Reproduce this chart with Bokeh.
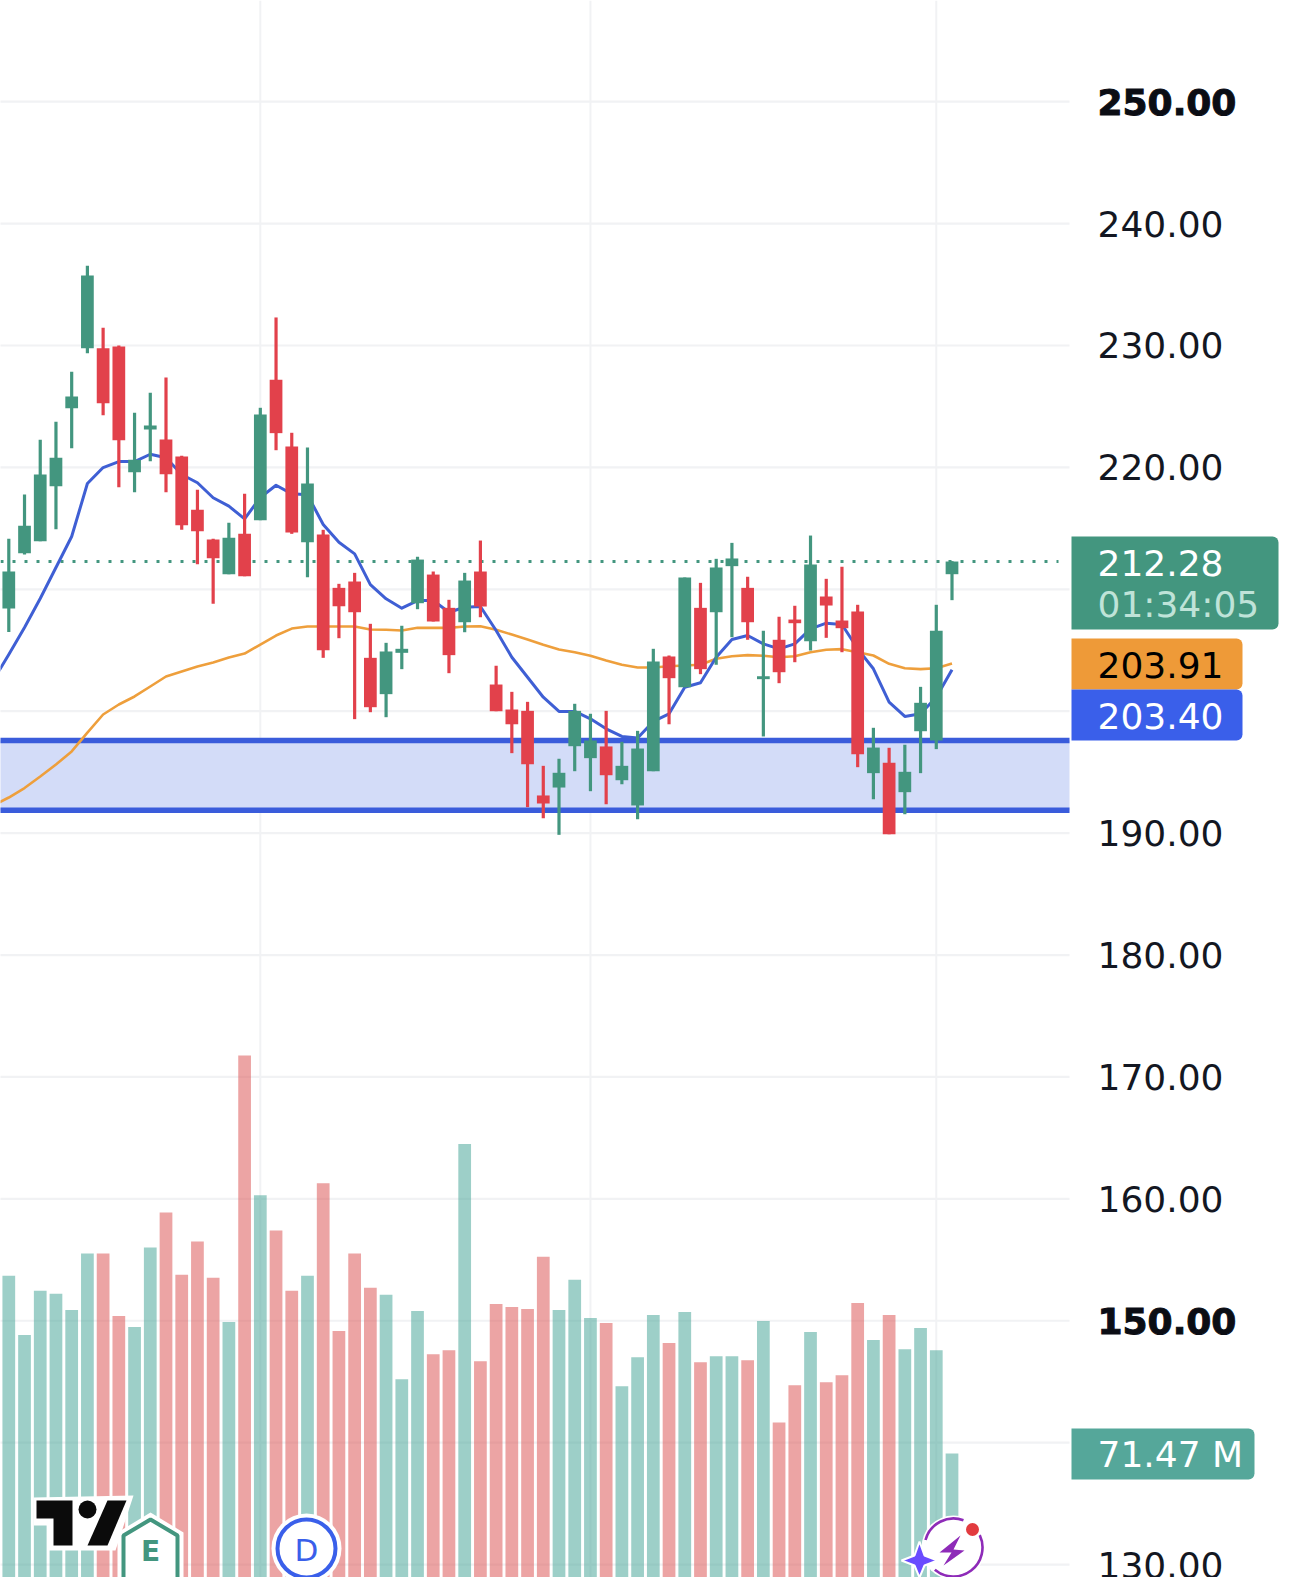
from bokeh.plotting import figure
from bokeh.models import Range1d
from bokeh.core.properties import value
from bokeh.embed import file_html
from bokeh.resources import INLINE

opens = [208.43,212.96,213.95,218.46,224.86,229.78,229.78,229.92,219.61,223.11,222.29,220.89,216.52,214.09,211.24,214.55,215.67,227.19,221.71,213.86,214.50,210.12,210.64,204.38,201.40,204.79,208.86,211.21,208.48,207.30,211.46,202.19,200.14,200.03,193.09,193.74,197.13,196.15,197.11,194.34,192.27,195.08,204.49,201.97,208.48,208.12,211.90,210.12,202.63,205.86,207.52,205.74,209.41,207.44,208.18,194.92,195.77,193.36,198.36,197.60,211.24]
highs = [214.14,217.78,222.26,223.74,227.84,236.54,231.45,230.00,224.48,226.12,227.37,220.95,218.16,214.14,215.46,217.83,224.89,232.30,222.84,221.63,214.88,210.45,211.35,207.17,205.61,207.01,212.67,211.46,209.14,211.35,214.00,203.73,201.59,200.77,195.52,196.10,200.61,199.79,200.03,197.49,198.39,205.12,204.57,210.97,210.53,212.50,213.81,211.03,206.60,207.75,208.65,214.41,210.86,211.85,208.73,198.64,197.00,197.25,202.00,208.73,212.31]
lows = [206.49,212.86,213.95,214.93,221.58,229.37,224.28,218.38,217.97,220.51,217.97,214.88,212.06,208.81,211.24,211.08,215.67,221.41,214.55,210.99,204.38,205.99,199.35,199.92,199.51,203.45,208.37,207.36,203.12,206.48,207.71,200.00,196.56,192.13,191.22,189.86,195.08,193.44,192.37,194.01,191.14,195.08,198.93,201.97,203.04,203.81,206.07,205.86,197.93,202.30,204.02,204.98,206.02,204.84,195.41,192.78,189.91,191.55,194.92,196.89,209.11]
closes = [211.46,215.21,219.42,220.79,225.82,235.74,225.27,222.23,220.62,223.44,219.44,215.26,214.77,212.55,214.23,211.08,224.34,222.81,214.66,218.68,205.01,208.61,208.12,200.33,204.90,205.12,212.44,207.36,204.60,210.72,208.59,200.00,198.93,195.65,192.43,194.95,200.03,197.60,194.75,195.52,196.94,204.08,202.71,210.97,203.45,211.79,212.53,207.30,202.87,203.20,207.22,212.04,208.67,206.81,196.47,197.02,189.91,195.03,200.69,206.60,212.28]
# The moving averages start one session before the first visible candle
ma_blue = [202.50,204.65,206.87,209.25,211.79,214.33,218.68,219.99,220.48,220.48,221.08,220.79,219.42,218.74,217.51,216.82,215.78,217.53,218.54,217.83,217.75,215.32,213.86,212.91,210.39,209.22,208.45,209.08,209.08,208.12,208.53,208.59,206.62,204.43,202.79,201.15,199.98,199.98,199.38,198.56,197.93,197.80,199.16,199.79,201.97,202.33,204.43,205.88,206.21,205.53,205.12,205.53,206.76,207.22,207.11,205.12,203.48,200.74,199.57,199.79,201.15,203.40]
ma_orange = [192.27,192.92,193.70,194.64,195.63,196.70,198.25,199.73,200.55,201.21,202.03,202.85,203.26,203.67,204.00,204.41,204.73,205.47,206.21,206.78,206.95,206.95,206.95,206.95,206.70,206.68,206.62,206.84,206.84,206.84,206.95,206.97,206.68,206.29,205.88,205.45,205.06,204.84,204.55,204.16,203.81,203.59,203.59,203.69,203.75,203.81,204.30,204.51,204.60,204.55,204.43,204.51,204.84,205.04,205.09,204.84,204.57,203.89,203.53,203.45,203.53,203.91]
volumes = [135.93,114.41,130.46,129.37,123.53,143.96,143.96,121.34,117.33,146.15,158.91,136.30,148.33,135.20,119.15,215.82,165.11,152.35,130.46,135.93,169.49,115.87,143.96,131.55,129.00,98.36,123.16,107.48,108.94,183.72,104.93,125.72,124.62,123.89,142.86,123.53,134.47,120.61,118.79,95.81,106.39,121.71,111.49,122.80,104.56,106.75,106.75,105.29,119.52,82.67,96.17,115.50,97.27,99.82,126.08,112.59,121.71,109.30,116.96,108.94,71.47]

grid_prices = [250,240,230,220,210,200,190,180,170,160,150,140,130]
axis_prices = [240,230,220,190,180,170,160,130]
bold_prices = [250,150]
time_grid = [16,37,59]
zone_top, zone_bottom = 197.60, 191.88
last_price, last_timer = 212.28, "01:34:05"
orange_label, blue_label, volume_label = "203.91", "203.40", "71.47 M"

GREEN, RED = "#43967F", "#E2414B"
W, H = 1290, 1577
FONT = value("DejaVu Sans")
X = lambda px: (px - 8.3) / 15.72
x0, x1 = X(0), X(W)
y_top, y_bottom = 258.30, 128.94
Y = lambda py: y_top - py * (y_top - y_bottom) / H
LEFT, RIGHT = X(-6), X(1069)

p = figure(width=W, height=H, output_backend="svg", toolbar_location=None,
           x_range=Range1d(x0, x1), y_range=Range1d(y_bottom, y_top),
           min_border=0, outline_line_color=None,
           x_axis_location=None, y_axis_location=None)
p.grid.visible = False
p.extra_y_ranges = {"vol": Range1d(26.48, 598.46)}

# Grid lines stop at the edge of the price scale
p.segment([LEFT] * len(grid_prices), grid_prices, [RIGHT] * len(grid_prices), grid_prices,
          line_color="#F1F2F4", line_width=2.2)
p.segment(time_grid, [y_bottom] * len(time_grid), time_grid, [y_top] * len(time_grid),
          line_color="#F1F2F4", line_width=2)
p.quad(left=[LEFT], right=[RIGHT], bottom=[zone_bottom], top=[zone_top], fill_color="#D3DCF8", line_color=None)
p.segment([LEFT, LEFT], [zone_top, zone_bottom], [RIGHT, RIGHT], [zone_top, zone_bottom],
          line_color="#3A5CDB", line_width=5.5)
p.line([X(0), X(1058)], [last_price, last_price], line_color=GREEN, line_width=3, line_dash="3 9")

idx = list(range(len(closes)))
up = [c >= o for o, c in zip(opens, closes)]
p.vbar(idx, 0.81, 26.48, volumes, y_range_name="vol", line_color=None,
       fill_color=["#4DA89A" if u else "#DD5A5A" for u in up], fill_alpha=0.55)
ma_idx = list(range(-1, len(closes)))
p.line(ma_idx, ma_orange, line_color="#EE9F3C", line_width=2.6, line_join="round")
p.line(ma_idx, ma_blue, line_color="#3F5FD4", line_width=3, line_join="round")
colors = [GREEN if u else RED for u in up]
p.segment(idx, lows, idx, highs, line_color=colors, line_width=3.2)
p.vbar(idx, 0.81, opens, closes, fill_color=colors, line_color=None)

def pill(l, r, t, b, c):
    p.quad(left=[X(l)], right=[X(r)], top=[Y(t)], bottom=[Y(b)], fill_color=c, line_color=None,
           border_radius=(0, 6, 6, 0))

def text(s, y, color="#FFFFFF", style="normal", size="36px", x=1097, **kw):
    p.text([X(x)], [y], text=[s], text_font=FONT, text_font_size=size, text_color=color,
           text_font_style=style, text_baseline="middle", text_align="left", **kw)

pill(1071, 1278, 536, 629, GREEN)
pill(1071, 1242, 638, 689, "#EE9A38")
pill(1071, 1242, 689, 740, "#3A5FEA")
pill(1071, 1254, 1428, 1479, "#55A79A")
for v in axis_prices:
    text(f"{v:.2f}", v, color="#131722")
for v in bold_prices:
    text(f"{v:.2f}", v, color="#0B0D14", style="bold", text_outline_color="#0B0D14")
text(f"{last_price:.2f}", Y(562))
text(last_timer, Y(604), color="#BFE3D8")
text(orange_label, Y(664), color="#000000")
text(blue_label, Y(715))
text(volume_label, Y(1454))

# Logo and badges along the bottom of the chart
def poly(points, fill, line=None, lw=0):
    p.patch([X(a) for a, _ in points], [Y(b) for _, b in points], fill_color=fill,
            line_color=line, line_width=lw)

def dot(x, y, size, fill, line=None, lw=0):
    p.scatter([X(x)], [Y(y)], size=size, fill_color=fill, line_color=line, line_width=lw)

poly([(33, 1497), (133, 1495), (115, 1550), (47, 1550), (47, 1525), (33, 1525)], "#FFFFFF")
poly([(36, 1500), (72, 1500), (72, 1545), (53, 1545), (53, 1518), (36, 1518)], "#0B0B0B")
poly([(107, 1500), (126, 1500), (107, 1545), (87, 1545)], "#0B0B0B")
dot(87, 1509, 18, "#0B0B0B")

poly([(150, 1512), (183, 1532), (183, 1580), (117, 1580), (117, 1532)], "#FFFFFF")
poly([(150, 1519), (177, 1535), (177, 1580), (123, 1580), (123, 1535)], "#FFFFFF", GREEN, 4)
p.text([X(150)], [Y(1551)], text=["E"], text_font=FONT, text_font_size="28px", text_font_style="bold",
       text_color=GREEN, text_align="center", text_baseline="middle")

dot(306, 1548, 70, "#FFFFFF")
dot(306, 1548, 58, "#FFFFFF", "#3A5FEA", 4)
p.text([X(306)], [Y(1549)], text=["D"], text_font=FONT, text_font_size="31px",
       text_color="#3A5FEA", text_align="center", text_baseline="middle")

dot(953, 1547, 64, "#FFFFFF")
p.arc([X(953)], [Y(1547)], radius=29, radius_units="screen", start_angle=1.22, end_angle=2.88,
      line_color="#8E2BB8", line_width=2.6)
p.arc([X(953)], [Y(1547)], radius=29, radius_units="screen", start_angle=-2.27, end_angle=0.44,
      line_color="#8E2BB8", line_width=2.6)
poly([(960, 1535), (939, 1552), (951, 1552), (943, 1565), (964, 1550), (953, 1549)], "#8E2BB8")
poly([(919, 1541), (924, 1555), (937, 1560), (924, 1565), (919, 1577), (914, 1565), (901, 1560), (914, 1555)], "#6A4CFF", "#FFFFFF", 2)
dot(972, 1529, 15, "#E23B3F", "#FFFFFF", 2)

open("out.html", "w").write(file_html(p, INLINE))
